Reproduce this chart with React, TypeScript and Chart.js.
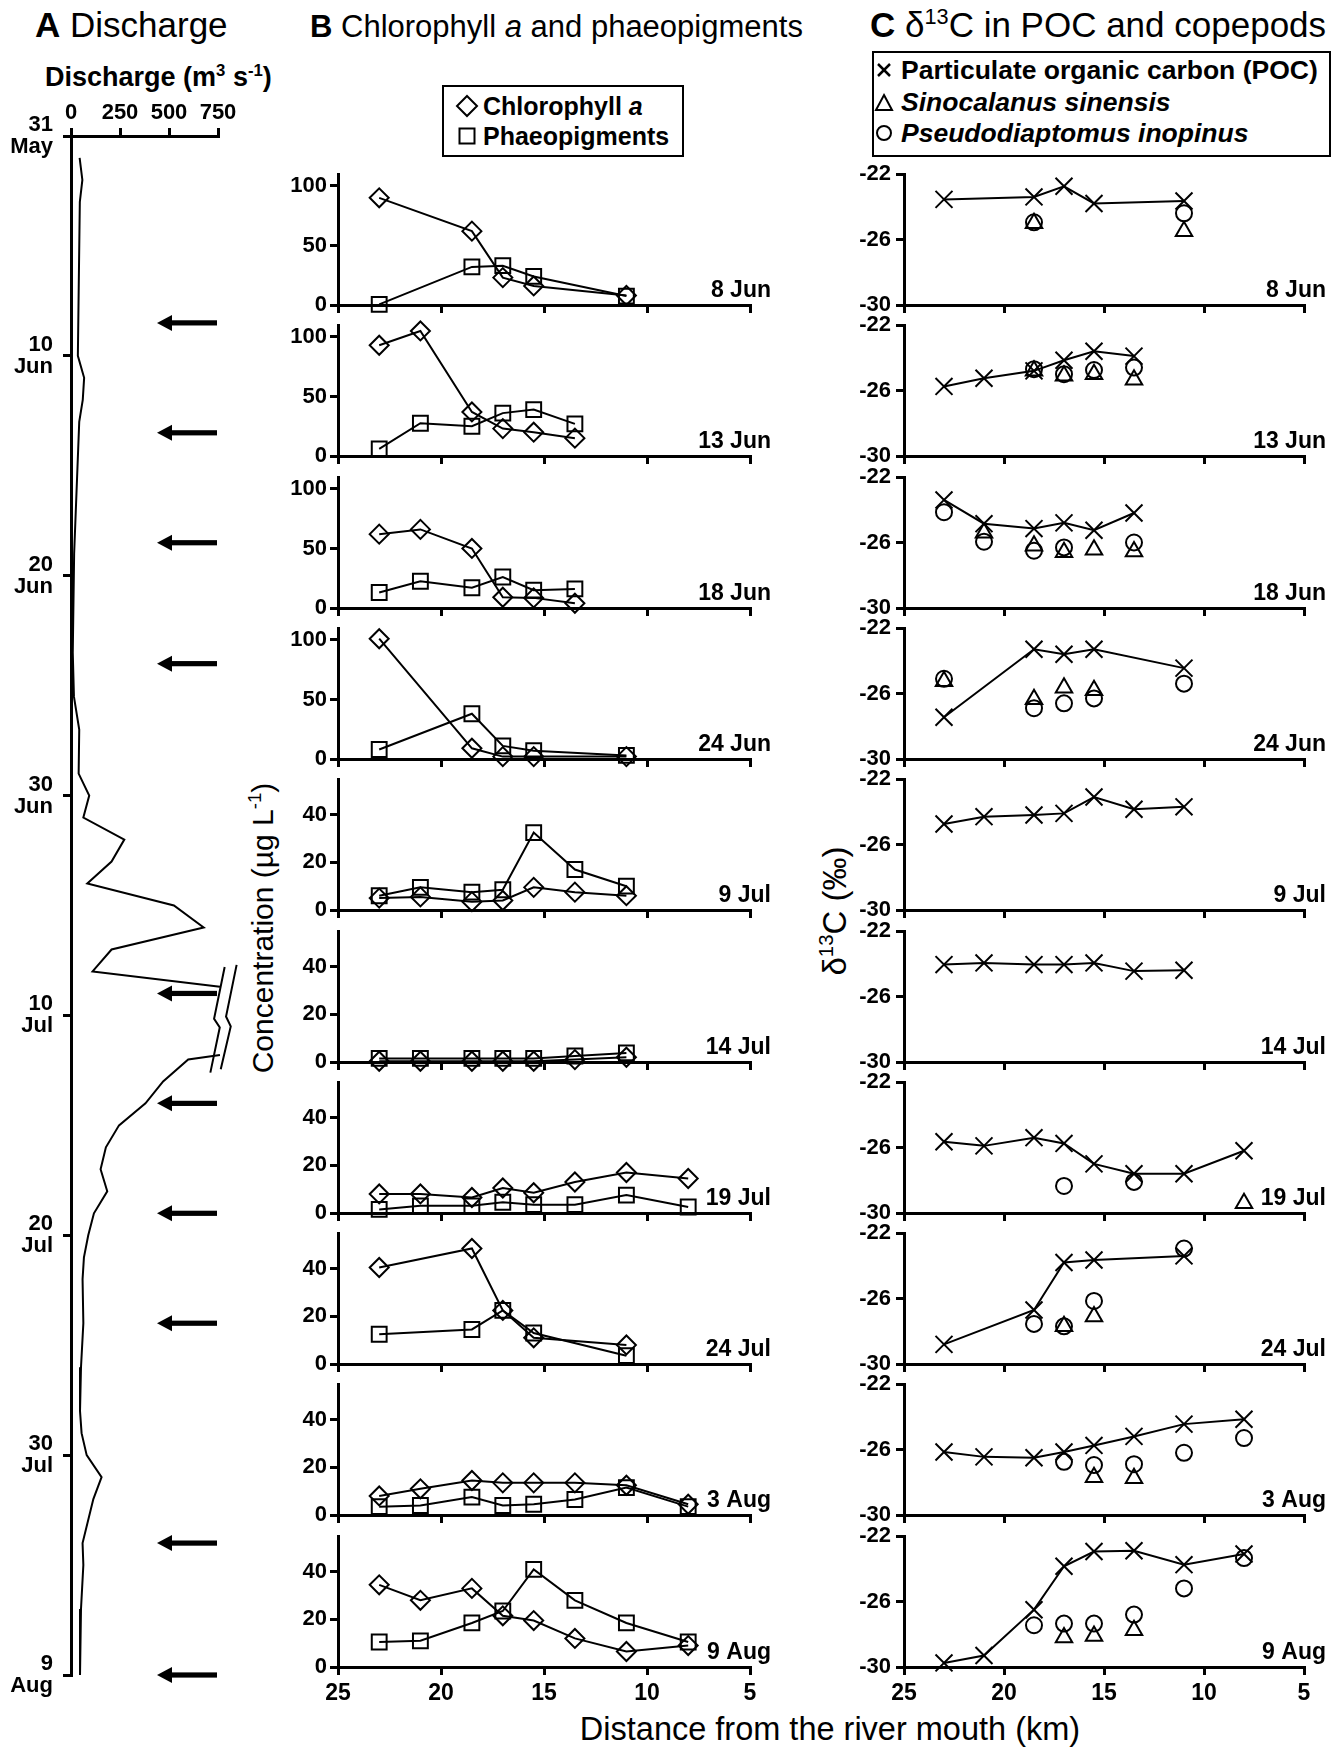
import React, { useEffect, useRef } from "react";
import { Chart, registerables } from "chart.js";

Chart.register(...registerables);

const FONT = "'Liberation Sans', Arial, Helvetica, sans-serif";
Chart.defaults.font.family = FONT;
Chart.defaults.color = "#000";

// ---------------- Panel A : discharge ----------------
// day counted from 31 May (day 0); null marks the axis break
const dischargeDay = [1, 2, 3, 10, 11, 12, 13, 19, 23.5, 25.5, 27, 29, 30, 31, 32, 33, 34, 35, 36, 37, 38, 38.7, null, 41.8, 42, 43, 44, 45, 46, 47, 48, 49, 50, 51, 52, 54, 56, 58, 59, 60, 61, 62, 64, 65, 67, 70];
const dischargeQ = [44, 58, 45, 35, 67, 60, 42, 16, 9, 15, 42, 39, 93, 63, 272, 207, 83, 525, 677, 207, 110, 760, null, 760, 598, 470, 380, 245, 178, 151, 185, 117, 88, 66, 59, 63, 51, 46, 54, 80, 156, 114, 59, 63, 51, 46];
const dischargeTicks = [0, 250, 500, 750];
const dateTickDay = [0, 10, 20, 30, 40, 50, 60, 70];
const dateTickText = [["31", "May"], ["10", "Jun"], ["20", "Jun"], ["30", "Jun"], ["10", "Jul"], ["20", "Jul"], ["30", "Jul"], ["9", "Aug"]];
const samplingDay = [8.5, 13.5, 18.5, 24, 39, 44, 49, 54, 64, 70];
const breakLeftQ = [784, 730, 759, 711];
const breakLeftDay = [37.8, 40.15, 40.55, 42.6];
const breakRightQ = [845, 791, 815, 764];
const breakRightDay = [37.7, 40.05, 40.5, 42.45];

// ---------------- Panels B and C ----------------
const sampleDates = ["8 Jun", "13 Jun", "18 Jun", "24 Jun", "9 Jul", "14 Jul", "19 Jul", "24 Jul", "3 Aug", "9 Aug"];
const stationKm = [23, 21, 18.5, 17, 15.5, 13.5, 11, 8];
const distanceTicks = [25, 20, 15, 10, 5];
const concTicksJun = [0, 50, 100];
const concTicksJulAug = [0, 20, 40];
const concMax = [110, 110, 110, 110, 55, 55, 55, 55, 55, 55];
const d13cTicks = [-30, -26, -22];

const chlA = [
  [90, null, 62, 23, 16, null, 8, null],
  [93, 105, 37, 23, 20, 15, null, null],
  [62, 66, 50, 9, 8.5, 4, null, null],
  [101, null, 9, 2, 2, null, 2, null],
  [5, 5.5, 3.5, 4, 9.5, 7.5, 6, null],
  [0.3, 0.3, 0.3, 0.3, 0.3, 1, 2, null],
  [8, 8, 6.5, 10.5, 8.5, 13, 17, 14.5],
  [40.5, null, 48.5, 22.5, 11, null, 8, null],
  [8, 11, 14.5, 13.5, 13.5, 13.5, 12.5, 4.5],
  [34.5, 28, 33, 21.5, 19.5, 12, 6.5, 9],
];
const phaeo = [
  [0.5, null, 32, 33, 24, null, 7.5, null],
  [6, 27.5, 25, 36, 39, 27, null, null],
  [13, 22.5, 17, 26, 15, 16, null, null],
  [8, null, 38, 11, 7, null, 3, null],
  [6, 9.5, 7.5, 8.5, 32.5, 17, 10, null],
  [1.5, 1.5, 1.5, 1.5, 1.5, 2.5, 3.8, null],
  [1.5, 3, 3, 4.5, 3.5, 3.5, 7.5, 2.5],
  [12.5, null, 14.5, 22.5, 13, null, 3.5, null],
  [3.5, 4, 7.5, 4, 4.5, 6.5, 11.5, 3.5],
  [10.5, 11, 18.5, 23.5, 41, 28, 18.5, 10.5],
];
const poc = [
  [-23.55, null, -23.4, -22.75, -23.8, null, -23.65, null],
  [-25.75, -25.25, -24.8, -24.15, -23.6, -23.9, null, null],
  [-23.4, -24.85, -25.15, -24.8, -25.25, -24.2, null, null],
  [-27.45, null, -23.3, -23.6, -23.3, null, -24.45, null],
  [-24.75, -24.3, -24.2, -24.1, -23.1, -23.85, -23.7, null],
  [-24.05, -23.95, -24.05, -24.05, -23.95, -24.45, -24.4, null],
  [-25.65, -25.9, -25.4, -25.75, -27.0, -27.6, -27.6, -26.2],
  [-28.8, null, -26.7, -23.8, -23.65, null, -23.4, null],
  [-26.15, -26.45, -26.5, -26.15, -25.75, -25.2, -24.45, -24.15],
  [-29.75, -29.3, -26.5, -23.85, -22.95, -22.9, -23.75, -23.1],
];
const sino = [
  [null, null, -25.0, null, null, null, -25.5, null],
  [null, null, -24.8, -25.1, -25.0, -25.35, null, null],
  [null, -25.4, -26.2, -26.6, -26.45, -26.55, null, null],
  [-25.25, null, -26.35, -25.65, -25.8, null, null, null],
  [null, null, null, null, null, null, null, null],
  [null, null, null, null, null, null, null, null],
  [null, null, null, null, null, null, null, -29.4],
  [null, null, null, -27.7, -27.1, null, null, null],
  [null, null, null, null, -27.7, -27.75, null, null],
  [null, null, null, -28.2, -28.1, -27.75, null, null],
];
const pseudo = [
  [null, null, -24.95, null, null, null, -24.4, null],
  [null, null, -24.7, -25.0, -24.75, -24.6, null, null],
  [-24.15, -25.95, -26.5, -26.3, null, -26.0, null, null],
  [-25.1, null, -26.9, -26.6, -26.3, null, -25.4, null],
  [null, null, null, null, null, null, null, null],
  [null, null, null, null, null, null, null, null],
  [null, null, null, -28.35, null, -28.1, null, null],
  [null, null, -27.55, -27.7, -26.15, null, -22.95, null],
  [null, null, null, -26.75, -26.95, -26.9, -26.2, -25.3],
  [null, null, -27.45, -27.35, -27.35, -26.8, -25.2, -23.35],
];

// ---------------- layout constants ----------------
const ROW_BOTTOM0 = 305;
const ROW_STEP = 151.3;
const PLOT_H = 131;
const PAD_T = 28;
const PAD_B = 16;
const B_LEFT = 338, B_RIGHT = 750, B_YW = 70, B_RP = 40, B_LABEL_OFF = 21;
const C_LEFT = 904, C_RIGHT = 1304, C_YW = 75, C_RP = 30, C_LABEL_OFF = 22;

const axisBorder = { display: true, color: "#000", width: 3 };
const tickGrid = { display: true, drawOnChartArea: false, drawTicks: true, tickLength: 8, color: "#000", lineWidth: 3 };

const pts = (arr: (number | null)[]) =>
  stationKm.map((x, k) => ({ x, y: arr[k] })).filter((p) => p.y !== null);

const setTicks = (vals: number[]) => (s: any) => {
  s.ticks = vals.map((v) => ({ value: v }));
};

const dateLabel = (text: string, off: number) => ({
  id: "dateLabel",
  afterDraw(chart: any) {
    const { ctx, chartArea } = chart;
    ctx.save();
    ctx.font = `bold 23px ${FONT}`;
    ctx.fillStyle = "#000";
    ctx.textAlign = "right";
    ctx.textBaseline = "alphabetic";
    ctx.fillText(text, chartArea.right + off, chartArea.bottom - 8);
    ctx.restore();
  },
});

function stripOptions(opts: any) {
  const { yMin, yMax, yTicks, yW, yPad, last, rightPad } = opts;
  return {
    responsive: false,
    animation: false,
    devicePixelRatio: 1,
    events: [],
    layout: { padding: { left: 0, right: rightPad, top: PAD_T, bottom: PAD_B } },
    plugins: { legend: { display: false }, tooltip: { enabled: false } },
    scales: {
      x: {
        type: "linear",
        min: 5,
        max: 25,
        reverse: true,
        afterBuildTicks: setTicks(distanceTicks),
        afterFit: (s: any) => {
          s.height = last ? 45 : 12;
        },
        grid: tickGrid,
        border: axisBorder,
        ticks: { display: last, font: { size: 23, weight: "bold" }, color: "#000", padding: 5, maxRotation: 0, autoSkip: false },
      },
      y: {
        type: "linear",
        min: yMin,
        max: yMax,
        afterBuildTicks: setTicks(yTicks),
        afterFit: (s: any) => {
          s.width = yW;
        },
        grid: tickGrid,
        border: axisBorder,
        ticks: { font: { size: 22, weight: "bold", lineHeight: 1 }, color: "#000", padding: yPad, autoSkip: false },
      },
    },
  };
}

const markerBase = {
  borderColor: "#000",
  borderWidth: 2,
  pointBorderColor: "#000",
  pointBorderWidth: 2,
  pointBackgroundColor: "rgba(0,0,0,0)",
  clip: false,
};

function bConfig(i: number) {
  const last = i === sampleDates.length - 1;
  return {
    type: "scatter",
    data: {
      datasets: [
        { ...markerBase, data: pts(chlA[i]), showLine: true, pointStyle: "rectRot", pointRadius: 9.5 },
        { ...markerBase, data: pts(phaeo[i]), showLine: true, pointStyle: "rect", pointRadius: 10.5 },
      ],
    },
    options: stripOptions({
      yMin: 0,
      yMax: concMax[i],
      yTicks: i < 4 ? concTicksJun : concTicksJulAug,
      yW: B_YW,
      yPad: 3,
      last,
      rightPad: B_RP,
    }),
    plugins: [dateLabel(sampleDates[i], B_LABEL_OFF)],
  };
}

function cConfig(i: number) {
  const last = i === sampleDates.length - 1;
  return {
    type: "scatter",
    data: {
      datasets: [
        { ...markerBase, data: pts(poc[i]), showLine: true, pointStyle: "crossRot", pointRadius: 12 },
        { ...markerBase, data: pts(sino[i]), showLine: false, pointStyle: "triangle", pointRadius: 9.5 },
        { ...markerBase, data: pts(pseudo[i]), showLine: false, pointStyle: "circle", pointRadius: 8 },
      ],
    },
    options: stripOptions({
      yMin: -30,
      yMax: -22,
      yTicks: d13cTicks,
      yW: C_YW,
      yPad: 5,
      last,
      rightPad: C_RP,
    }),
    plugins: [dateLabel(sampleDates[i], C_LABEL_OFF)],
  };
}

const dischargeDecor = {
  id: "dischargeDecor",
  afterDatasetsDraw(chart: any) {
    const { ctx } = chart;
    const xs = chart.scales.x;
    const ys = chart.scales.y;
    ctx.save();
    ctx.fillStyle = "#000";
    samplingDay.forEach((d) => {
      const y = ys.getPixelForValue(d);
      const tip = 157, tail = 217, head = 15, hw = 8, sw = 2.6;
      ctx.beginPath();
      ctx.moveTo(tip, y);
      ctx.lineTo(tip + head, y - hw);
      ctx.lineTo(tip + head, y + hw);
      ctx.closePath();
      ctx.fill();
      ctx.fillRect(tip + head - 1, y - sw, tail - tip - head + 1, sw * 2);
    });
    ctx.strokeStyle = "#000";
    ctx.lineWidth = 2;
    const lines: [number[], number[]][] = [
      [breakLeftQ, breakLeftDay],
      [breakRightQ, breakRightDay],
    ];
    lines.forEach(([qs, ds]) => {
      ctx.beginPath();
      qs.forEach((q, k) => {
        const px = xs.getPixelForValue(q);
        const py = ys.getPixelForValue(ds[k]);
        if (k === 0) ctx.moveTo(px, py);
        else ctx.lineTo(px, py);
      });
      ctx.stroke();
    });
    ctx.restore();
  },
};

function aConfig() {
  return {
    type: "scatter",
    data: {
      datasets: [
        {
          data: dischargeDay.map((d, k) => ({ x: dischargeQ[k], y: d })),
          showLine: true,
          spanGaps: false,
          borderColor: "#000",
          borderWidth: 2,
          pointRadius: 0,
          clip: false,
        },
      ],
    },
    options: {
      responsive: false,
      animation: false,
      devicePixelRatio: 1,
      events: [],
      layout: { padding: { left: 0, right: 57, top: 0, bottom: 35 } },
      plugins: { legend: { display: false }, tooltip: { enabled: false } },
      scales: {
        x: {
          type: "linear",
          position: "top",
          min: 0,
          max: 750,
          afterBuildTicks: setTicks(dischargeTicks),
          afterFit: (s: any) => {
            s.height = 136;
          },
          grid: tickGrid,
          border: axisBorder,
          ticks: { font: { size: 22, weight: "bold" }, color: "#000", padding: 2, maxRotation: 0, autoSkip: false },
        },
        y: {
          type: "linear",
          min: 0,
          max: 70,
          reverse: true,
          afterBuildTicks: setTicks(dateTickDay),
          afterFit: (s: any) => {
            s.width = 71;
          },
          grid: tickGrid,
          border: axisBorder,
          ticks: {
            font: { size: 22, weight: "bold", lineHeight: 1 },
            color: "#000",
            padding: 10,
            autoSkip: false,
            callback: (v: number) => {
              const k = dateTickDay.indexOf(v);
              return k >= 0 ? dateTickText[k] : "";
            },
          },
        },
      },
    },
    plugins: [dischargeDecor],
  };
}

function ChartBox({ left, top, width, height, make }: any) {
  const ref = useRef<HTMLCanvasElement>(null);
  useEffect(() => {
    const chart = new Chart(ref.current as HTMLCanvasElement, make() as any);
    return () => chart.destroy();
  }, []);
  return (
    <canvas
      ref={ref}
      width={width}
      height={height}
      style={{ position: "absolute", left, top, width, height }}
    />
  );
}

function Txt({ x, y, size, weight = "normal", align = "left", style = {}, children }: any) {
  const tx = align === "left" ? "0" : align === "center" ? "-50%" : "-100%";
  return (
    <div
      style={{
        position: "absolute",
        left: x,
        top: y - 0.8465 * size,
        fontSize: size,
        lineHeight: `${size}px`,
        fontWeight: weight,
        whiteSpace: "nowrap",
        transform: `translateX(${tx})`,
        ...style,
      }}
    >
      {children}
    </div>
  );
}

function VTxt({ cx, cy, size, children }: any) {
  return (
    <div
      style={{
        position: "absolute",
        left: cx,
        top: cy,
        fontSize: size,
        lineHeight: `${size}px`,
        whiteSpace: "nowrap",
        transform: "translate(-50%, -50%) rotate(-90deg)",
      }}
    >
      {children}
    </div>
  );
}

const supStyle: any = { fontSize: "0.62em", lineHeight: 0, verticalAlign: "0.62em" };

export default function App() {
  const rows = sampleDates.map((_, i) => {
    const bottom = Math.round(ROW_BOTTOM0 + ROW_STEP * i);
    const top = bottom - PLOT_H - PAD_T;
    const last = i === sampleDates.length - 1;
    const h = PAD_T + PLOT_H + (last ? 45 : 12) + PAD_B;
    return { i, top, h };
  });
  return (
    <div
      style={{
        position: "absolute",
        left: 0,
        top: 0,
        width: 1335,
        height: 1753,
        background: "#fff",
        overflow: "hidden",
        fontFamily: FONT,
        color: "#000",
      }}
    >
      {/* Titles */}
      <Txt x={35} y={37} size={35}>
        <b>A</b> Discharge
      </Txt>
      <Txt x={310} y={37} size={31}>
        <b>B</b> Chlorophyll <i>a</i> and phaeopigments
      </Txt>
      <Txt x={870} y={37} size={35}>
        <b>C</b> δ<sup style={supStyle}>13</sup>C in POC and copepods
      </Txt>
      <Txt x={45} y={87} size={27} weight="bold">
        Discharge (m<sup style={supStyle}>3</sup> s<sup style={supStyle}>-1</sup>)
      </Txt>

      {/* Legend B */}
      <div style={{ position: "absolute", left: 442, top: 85, width: 242, height: 72, border: "2.5px solid #000", boxSizing: "border-box" }} />
      <svg style={{ position: "absolute", left: 455, top: 94 }} width={24} height={24}>
        <polygon points="12,2 22,12 12,22 2,12" fill="none" stroke="#000" strokeWidth={2} />
      </svg>
      <svg style={{ position: "absolute", left: 457, top: 126 }} width={20} height={20}>
        <rect x={2.5} y={2.5} width={15} height={15} fill="none" stroke="#000" strokeWidth={2} />
      </svg>
      <Txt x={483} y={115} size={25} weight="bold">
        Chlorophyll <i>a</i>
      </Txt>
      <Txt x={483} y={145} size={25} weight="bold">
        Phaeopigments
      </Txt>

      {/* Legend C */}
      <div style={{ position: "absolute", left: 872, top: 51, width: 459, height: 106, border: "2.5px solid #000", boxSizing: "border-box" }} />
      <svg style={{ position: "absolute", left: 874, top: 60 }} width={20} height={20}>
        <line x1={4} y1={4} x2={16} y2={16} stroke="#000" strokeWidth={2.5} />
        <line x1={16} y1={4} x2={4} y2={16} stroke="#000" strokeWidth={2.5} />
      </svg>
      <svg style={{ position: "absolute", left: 873, top: 92 }} width={22} height={22}>
        <polygon points="11,3 19,18 3,18" fill="none" stroke="#000" strokeWidth={2} />
      </svg>
      <svg style={{ position: "absolute", left: 874, top: 123 }} width={20} height={20}>
        <circle cx={10} cy={10} r={7} fill="none" stroke="#000" strokeWidth={2} />
      </svg>
      <Txt x={901} y={79} size={26.5} weight="bold">
        Particulate organic carbon (POC)
      </Txt>
      <Txt x={901} y={111} size={26.5} weight="bold" style={{ fontStyle: "italic" }}>
        Sinocalanus sinensis
      </Txt>
      <Txt x={901} y={142} size={26.5} weight="bold" style={{ fontStyle: "italic" }}>
        Pseudodiaptomus inopinus
      </Txt>

      {/* Axis titles */}
      <VTxt cx={263} cy={928} size={30}>
        Concentration (µg L<sup style={supStyle}>-1</sup>)
      </VTxt>
      <VTxt cx={834} cy={911} size={33}>
        δ<sup style={supStyle}>13</sup>C (‰)
      </VTxt>
      <Txt x={830} y={1741} size={32.5} align="center">
        Distance from the river mouth (km)
      </Txt>

      {/* Panel A */}
      <ChartBox left={0} top={0} width={275} height={1710} make={aConfig} />

      {/* Panels B and C */}
      {rows.map((r) => (
        <ChartBox
          key={"b" + r.i}
          left={B_LEFT - B_YW}
          top={r.top}
          width={B_RIGHT - (B_LEFT - B_YW) + B_RP}
          height={r.h}
          make={() => bConfig(r.i)}
        />
      ))}
      {rows.map((r) => (
        <ChartBox
          key={"c" + r.i}
          left={C_LEFT - C_YW}
          top={r.top}
          width={C_RIGHT - (C_LEFT - C_YW) + C_RP}
          height={r.h}
          make={() => cConfig(r.i)}
        />
      ))}
    </div>
  );
}
